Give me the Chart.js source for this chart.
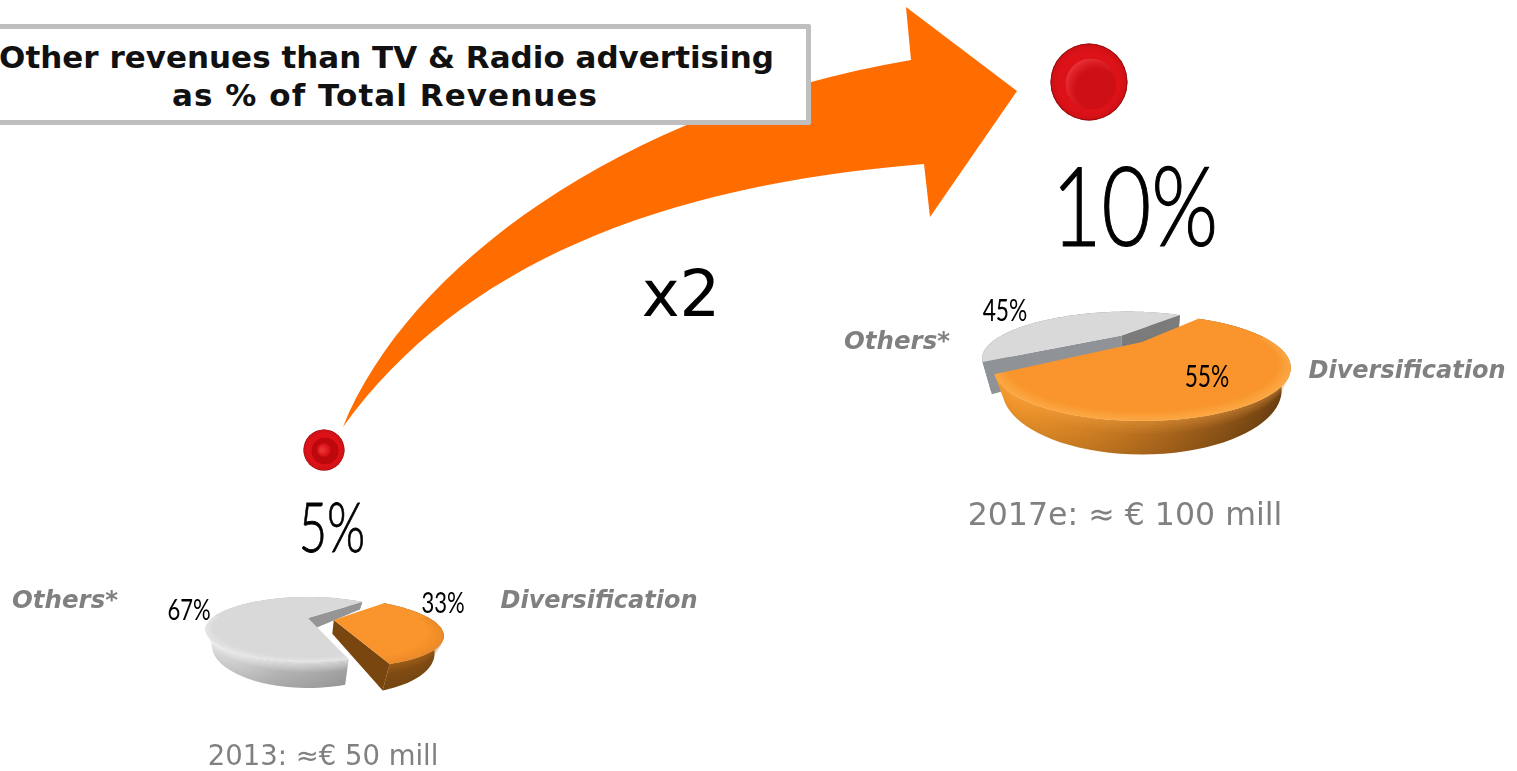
<!DOCTYPE html>
<html>
<head>
<meta charset="utf-8">
<title>Other revenues than TV &amp; Radio advertising</title>
<script src="https://cdn.jsdelivr.net/npm/chart.js@4"></script>
<style>
  html, body { margin: 0; padding: 0; background: #fff; overflow: hidden; }
  #page { position: relative; width: 1517px; height: 771px; overflow: hidden; }
  canvas { position: absolute; display: block; }
  .lbl { position: absolute; white-space: nowrap; line-height: 1; transform-origin: center; }
  .dv { font-family: "DejaVu Sans", sans-serif; }
  .lt { font-family: Lato, sans-serif; color: #000; }
  .tag { font-family: "DejaVu Sans", sans-serif; font-weight: bold; font-style: italic; color: #808080; }
  .cap { font-family: "DejaVu Sans", sans-serif; color: #808080; }
  #titleBox { position: absolute; left: -6px; top: 24px; width: 817px; height: 101px; box-sizing: border-box;
              background: #fff; border: 5px solid #bfbfbf; border-radius: 2px; }
</style>
</head>
<body>
<div id="page">
  <canvas id="growthChart" width="1517" height="771" style="left:0;top:0"></canvas>
  <div id="titleBox"></div>
  <canvas id="pie2013" width="420" height="300"></canvas>
  <canvas id="pie2017" width="560" height="380"></canvas>
</div>
<script>
// revenue share outside TV & radio, by year
const years = [2013, 2017];
const otherRevenueShare = [5, 10];
const bubbleRadius = [20.5, 38.5];

// split of that share
const pieCategories = ['Diversification', 'Others*'];
const split2013 = [33, 67];
const split2017 = [55, 45];
const captions = ['2013: ≈€ 50 mill', '2017e: ≈ € 100 mill'];

const ORANGE = '#ff6d00';

// the big curved arrow behind the bubbles
const arrowPlugin = {
  id: 'growthArrow',
  beforeDatasetsDraw(chart) {
    const ctx = chart.ctx;
    ctx.save();
    ctx.fillStyle = ORANGE;
    ctx.beginPath();
    ctx.moveTo(343, 427);
    ctx.bezierCurveTo(407, 268, 620, 110, 911, 60);
    ctx.lineTo(906, 7);
    ctx.lineTo(1017, 91);
    ctx.lineTo(930, 217);
    ctx.lineTo(924, 164);
    ctx.bezierCurveTo(660, 185, 460, 265, 343, 427);
    ctx.closePath();
    ctx.fill();
    ctx.restore();
  },
  afterDatasetsDraw(chart) {
    // shading on top of the flat bubbles
    const ctx = chart.ctx;
    chart.getDatasetMeta(0).data.forEach((el, i) => {
      const r = el.options.radius;
      ctx.save();
      let g = ctx.createRadialGradient(el.x, el.y, r * 0.8, el.x, el.y, r);
      g.addColorStop(0, 'rgba(110,0,0,0)');
      g.addColorStop(0.8, 'rgba(110,0,0,0.12)');
      g.addColorStop(1, 'rgba(90,0,0,0.8)');
      ctx.fillStyle = g;
      ctx.beginPath();
      ctx.arc(el.x, el.y, r, 0, Math.PI * 2);
      ctx.fill();

      // inner dish, lit from the upper left
      const dx = el.x + r * 0.05, dy = el.y + r * 0.05, dr = r * 0.66;
      ctx.beginPath();
      ctx.arc(dx, dy, dr, 0, Math.PI * 2);
      ctx.clip();
      ctx.fillStyle = '#cf0f16';
      ctx.fillRect(dx - dr, dy - dr, dr * 2, dr * 2);
      if (i === 0) {
        g = ctx.createRadialGradient(el.x - r * 0.1, el.y, r * 0.1, el.x, el.y, r * 0.36);
        g.addColorStop(0, 'rgba(245,60,60,0.75)');
        g.addColorStop(0.7, 'rgba(225,25,30,0.5)');
        g.addColorStop(1, 'rgba(170,0,5,0.5)');
      } else {
        g = ctx.createRadialGradient(dx + r * 0.14, dy + r * 0.14, dr * 0.8, dx + r * 0.14, dy + r * 0.14, dr * 1.25);
        g.addColorStop(0, 'rgba(240,50,55,0)');
        g.addColorStop(1, 'rgba(245,70,75,0.6)');
      }
      ctx.fillStyle = g;
      ctx.fillRect(dx - dr, dy - dr, dr * 2, dr * 2);
      ctx.restore();
    });
  }
};

new Chart(document.getElementById('growthChart'), {
  type: 'bubble',
  data: {
    datasets: [{
      data: years.map((y, i) => ({ x: y, y: otherRevenueShare[i], r: bubbleRadius[i] })),
      backgroundColor: '#dc1218',
      borderWidth: 0
    }]
  },
  options: {
    responsive: false,
    animation: false,
    layout: { autoPadding: false, padding: 0 },
    plugins: { legend: { display: false }, tooltip: { enabled: false } },
    events: [],
    scales: {
      x: { type: 'linear', display: false, min: 2011.306, max: 2019.238 },
      y: { type: 'linear', display: false, min: 0.639, max: 11.114 }
    }
  },
  plugins: [arrowPlugin]
});

// pie seen from above: projects the arc elements onto a tilted disc with some thickness
const solidPie = {
  id: 'solidPie',
  beforeDatasetsDraw(chart, args, opts) {
    const ctx = chart.ctx;
    const meta = chart.getDatasetMeta(0);
    // back slice first so the front one lands on top
    opts.order.forEach((i) => drawSlice(ctx, meta.data[i], opts, opts.slices[i]));
    return false;
  }
};

function drawSlice(ctx, el, opts, look) {
  const R = el.outerRadius;
  const mid = (el.startAngle + el.endAngle) / 2;
  const off = el.options.offset / R;
  const ox = Math.cos(mid) * off, oy = Math.sin(mid) * off;
  const depth = opts.depth * (look.depthScale || 1);

  const project = (a, r, z) => {
    const X = ox + r * Math.cos(a), Y = oy + r * Math.sin(a);
    const w = 1 - opts.k * Y + opts.m * z;
    return [el.x + R * X / w, el.y + (R * opts.squash * Y + depth * z * (1 + opts.tilt * Y)) / w];
  };

  const STEPS = 72;
  const angles = [];
  for (let i = 0; i <= STEPS; i++) angles.push(el.startAngle + (el.endAngle - el.startAngle) * i / STEPS);
  const front = angles.filter((a) => Math.sin(a) > -0.12);

  const band = (list, r0, z0, r1, z1) => {
    ctx.beginPath();
    list.forEach((a, i) => {
      const p = project(a, r0, z0);
      if (i) ctx.lineTo(p[0], p[1]); else ctx.moveTo(p[0], p[1]);
    });
    list.slice().reverse().forEach((a) => {
      const p = project(a, r1, z1);
      ctx.lineTo(p[0], p[1]);
    });
    ctx.closePath();
  };

  // outer wall
  const wall = ctx.createLinearGradient(el.x - R, 0, el.x + R * 1.1, 0);
  look.wall.forEach((c, i) => wall.addColorStop(i / (look.wall.length - 1), c));
  ctx.fillStyle = wall;
  band(angles, 1, 0, 1, 1);
  ctx.fill();
  // wall gets darker toward its foot, with a lit lip at the top
  const N = 24;
  for (let j = 0; j < N; j++) {
    const t = j / N;
    const light = Math.max(0, look.lip * (1 - t * 2.6));
    ctx.fillStyle = light > 0 ? `rgba(${look.lipColour},${light})` : `rgba(0,0,0,${Math.max(0, t - 0.4) * 0.12})`;
    band(front, 1, t, 1, t + 1 / N);
    ctx.fill();
  }

  // cut faces; a face whose foot falls under the top of the slice cannot be seen
  const inner = project(mid, 0.5, 0);
  [[el.startAngle, look.cutStart], [el.endAngle, look.cutEnd]].forEach(([a, colour]) => {
    const a0 = project(a, 0, 0), a1 = project(a, 1, 0), a2 = project(a, 1, 1), a3 = project(a, 0, 1);
    const side = (p) => (a1[0] - a0[0]) * (p[1] - a0[1]) - (a1[1] - a0[1]) * (p[0] - a0[0]);
    const foot = [(a2[0] + a3[0]) / 2, (a2[1] + a3[1]) / 2];
    if (side(foot) * side(inner) > 0) return;
    ctx.fillStyle = colour;
    ctx.beginPath();
    ctx.moveTo(a0[0], a0[1]);
    ctx.lineTo(a1[0], a1[1]);
    ctx.lineTo(a2[0], a2[1]);
    ctx.lineTo(a3[0], a3[1]);
    ctx.closePath();
    ctx.fill();
  });

  // top face
  const apex = project(0, 0, 0);
  ctx.fillStyle = el.options.backgroundColor;
  ctx.beginPath();
  ctx.moveTo(apex[0], apex[1]);
  angles.forEach((a) => {
    const p = project(a, 1, 0);
    ctx.lineTo(p[0], p[1]);
  });
  ctx.closePath();
  ctx.fill();

  // soft bevel round the front of the rim
  const B = 8;
  for (let j = 0; j < B; j++) {
    const r0 = 1 - look.bevel * (1 - j / B), r1 = 1 - look.bevel * (1 - (j + 1) / B);
    ctx.fillStyle = `rgba(${look.bevelColour},${0.05 + j * 0.07})`;
    band(front, r0, 0, r1, 0);
    ctx.fill();
  }
}

function makePie(id, values, opts) {
  const canvas = document.getElementById(id);
  canvas.style.left = (opts.cx - canvas.width / 2) + 'px';
  canvas.style.top = (opts.cy - canvas.height / 2) + 'px';
  return new Chart(canvas, {
    type: 'pie',
    data: {
      labels: pieCategories,
      datasets: [{
        data: values,
        backgroundColor: ['#f9952c', '#d9d9d9'],
        offset: opts.offset,
        borderWidth: 0,
        hoverOffset: 0
      }]
    },
    options: {
      responsive: false,
      animation: false,
      events: [],
      rotation: opts.rotation,
      radius: opts.radius,
      layout: { padding: 0 },
      plugins: { legend: { display: false }, tooltip: { enabled: false }, solidPie: opts.solid }
    },
    plugins: [solidPie]
  });
}

makePie('pie2013', split2013, {
  cx: 308, cy: 618, radius: 96, rotation: 45, offset: [26, 0],
  solid: {
    order: [1, 0], squash: 0.296, k: 0.354, m: 0.06, depth: 14, tilt: 0.5,
    slices: [
      { wall: ['#7a4510', '#7a4510', '#7a4a12', '#7f4c14'], lip: 0.5, lipColour: '190,110,30', cutStart: '#7a4a12', cutEnd: '#79460f', bevel: 0.12, bevelColour: '225,130,40' },
      { wall: ['#dcdcdc', '#b4b4b4', '#a0a0a0', '#8c8c8c'], lip: 0.6, lipColour: '255,255,255', cutStart: '#959595', cutEnd: '#959595', bevel: 0.08, bevelColour: '240,240,240' }
    ]
  }
});

makePie('pie2017', split2017, {
  cx: 1142, cy: 342, radius: 130, rotation: 37, offset: [0, 32],
  solid: {
    order: [1, 0], squash: 0.3125, k: 0.486, m: 0.05, depth: 19, tilt: 0.2,
    slices: [
      { wall: ['#f0962c', '#c87a22', '#9a5c1a', '#6c4012'], lip: 0.4, lipColour: '255,170,70', cutStart: '#a8651d', cutEnd: '#a8651d', bevel: 0.07, bevelColour: '255,185,90' },
      { wall: ['#8a8a8a', '#888888', '#8f9296', '#8f9296'], lip: 0, lipColour: '255,255,255', cutStart: '#8f9296', cutEnd: '#7b7b7b', bevel: 0.01, bevelColour: '217,217,217', depthScale: 1.4 }
    ]
  }
});

// all text goes on as html labels above the canvases
const page = document.getElementById('page');
function addLabel(text, x, y, cls, size, extra) {
  const d = document.createElement('div');
  d.className = 'lbl ' + cls;
  d.textContent = text;
  d.style.left = x + 'px';
  d.style.top = y + 'px';
  d.style.fontSize = size + 'px';
  d.style.transform = 'translate(-50%,-50%)' + (extra && extra.sx ? ` scaleX(${extra.sx})` : '');
  if (extra && extra.css) Object.assign(d.style, extra.css);
  page.appendChild(d);
}

addLabel('Other revenues than TV & Radio advertising', 386.5, 57, 'dv', 31, { css: { fontWeight: 'bold', color: '#111' } });
addLabel('as % of Total Revenues', 385, 95, 'dv', 31, { css: { fontWeight: 'bold', color: '#111', letterSpacing: '1.05px' } });
addLabel('x2', 681, 294, 'dv', 64, { css: { color: '#000' } });

addLabel(otherRevenueShare[1] + '%', 1135, 203, 'lt', 110, { sx: 0.78, css: { fontWeight: 300, webkitTextStroke: '1.2px #000' } });
addLabel(otherRevenueShare[0] + '%', 332, 526, 'lt', 68, { sx: 0.72, css: { fontWeight: 300, webkitTextStroke: '0.8px #000' } });

addLabel(split2017[1] + '%', 1005, 309, 'lt', 30, { sx: 0.76 });
addLabel(split2017[0] + '%', 1207, 375, 'lt', 30, { sx: 0.76 });
addLabel(split2013[1] + '%', 189, 608, 'lt', 29, { sx: 0.76 });
addLabel(split2013[0] + '%', 443, 601, 'lt', 29, { sx: 0.76 });

addLabel(pieCategories[1], 65, 600, 'tag', 24.5);
addLabel(pieCategories[0], 599, 600, 'tag', 24);
addLabel(pieCategories[1], 897, 341, 'tag', 24.5);
addLabel(pieCategories[0], 1407, 370, 'tag', 24);

addLabel(captions[0], 323, 756, 'cap', 27.5);
addLabel(captions[1], 1125, 515, 'cap', 31.6);
</script>
</body>
</html>
